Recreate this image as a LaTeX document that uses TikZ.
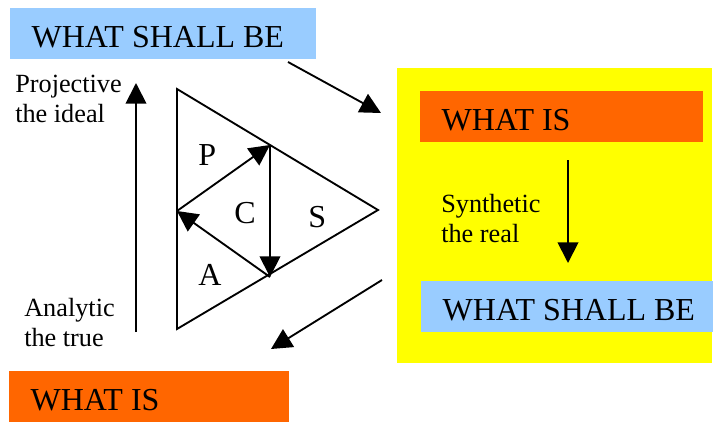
\documentclass[tikz,border=0pt]{standalone}
\usepackage{fontspec}
\setmainfont{Liberation Serif}
\usetikzlibrary{arrows.meta}
\definecolor{pcsBlue}{HTML}{99CCFF}
\definecolor{pcsOrange}{HTML}{FF6600}
\definecolor{pcsYellow}{HTML}{FFFF00}

\begin{document}
\begin{tikzpicture}[x=0.75pt, y=-0.75pt,
    tag/.style={anchor=north west, inner xsep=16pt, inner ysep=0pt,
      text height=29.25pt, text depth=9pt, font=\fontsize{24}{28}\selectfont},
    note/.style={anchor=north west, inner sep=0pt, align=left,
      font=\fontsize{19.7}{22.5}\selectfont},
    corner/.style={anchor=base west, inner sep=0pt, font=\fontsize{24}{28}\selectfont},
    arr/.style={-{Triangle[length=15.5pt, width=15.5pt]}, line width=1.4pt},
    tri/.style={line width=1.4pt, line join=miter}]
    \useasboundingbox (0,0) rectangle (713,421);
    \node[fill=pcsYellow, anchor=north west, inner sep=0pt,
      minimum width=236.25pt, minimum height=221.25pt] (realzone) at (397,68) {};
    \node[tag, fill=pcsBlue] (shalltop) at (10,8) {\makebox[197.25pt][l]{WHAT SHALL BE}};
    \node[tag, fill=pcsOrange] (isright) at (420,91) {\makebox[180.25pt][l]{WHAT IS}};
    \node[tag, fill=pcsBlue] (shallright) at (421,281) {\makebox[187pt][l]{WHAT SHALL BE}};
    \node[tag, fill=pcsOrange] (isbottom) at (9,371) {\makebox[178pt][l]{WHAT IS}};
    \node[note] (projective) at (15,75) {Projective\\the ideal};
    \node[note] (synthetic) at (441,194) {Synthetic\\the real};
    \node[note] (analytic) at (24,298) {Analytic\\the true};
    \coordinate (ttop) at (177,89);
    \coordinate (tbot) at (177,329);
    \coordinate (tright) at (378,210);
    \coordinate (mtop) at (270,145);
    \coordinate (mleft) at (177,211);
    \coordinate (mbot) at (270,277);
    \draw[tri] (ttop) -- (tright) -- (tbot) -- cycle;
    \draw[arr] (mleft) -- (mtop);
    \draw[arr] (mtop) -- (mbot);
    \draw[arr] (mbot) -- (mleft);
    \node[corner] (plabel) at (198,165) {P};
    \node[corner] (clabel) at (234,223) {C};
    \node[corner] (slabel) at (308,227) {S};
    \node[corner] (alabel) at (198,285) {A};
    \coordinate (upstart) at (136,332);
    \coordinate (upend) at (136,83);
    \coordinate (downstart) at (568,160);
    \coordinate (downend) at (568,263);
    \coordinate (intostart) at (288,62);
    \coordinate (intoend) at (381,113);
    \coordinate (outstart) at (382,280);
    \coordinate (outend) at (271,349);
    \draw[arr] (upstart) -- (upend);
    \draw[arr] (downstart) -- (downend);
    \draw[arr] (intostart) -- (intoend);
    \draw[arr] (outstart) -- (outend);
  \end{tikzpicture}
\end{document}
